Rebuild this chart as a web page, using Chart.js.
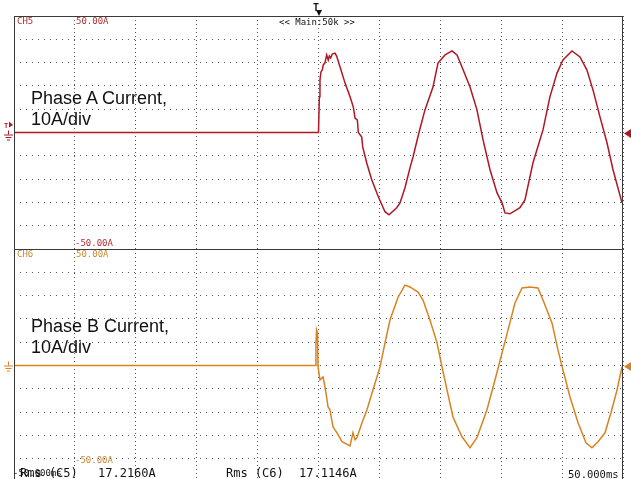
<!DOCTYPE html>
<html>
<head>
<meta charset="utf-8">
<script src="https://cdn.jsdelivr.net/npm/chart.js@4.4.0/dist/chart.umd.min.js"></script>
<style>
  html, body { margin: 0; padding: 0; background: #fff; }
  body { width: 631px; height: 479px; overflow: hidden; position: relative; }
  canvas { position: absolute; left: 0; }
  .lbl { position: absolute; white-space: pre; line-height: 1; }
  .mono { font-family: "DejaVu Sans Mono", monospace; }
  .phase { font-family: "Liberation Sans", Arial, sans-serif; font-size: 18px; color: #111; }
</style>
</head>
<body>
<canvas id="scopeA" width="631" height="260" style="top:0"></canvas>
<canvas id="scopeB" width="631" height="260" style="top:239px"></canvas>

<div class="lbl mono" style="left:17px;top:17px;font-size:9px;color:#b0302f">CH5</div>
<div class="lbl mono" style="left:76px;top:17px;font-size:9px;color:#b0302f">50.00A</div>
<div class="lbl mono" style="left:279px;top:18px;font-size:9px;color:#111">&lt;&lt; Main:50k &gt;&gt;</div>
<div class="lbl mono" style="left:75px;top:239px;font-size:9px;color:#b0302f">-50.00A</div>
<div class="lbl mono" style="left:17px;top:250px;font-size:9px;color:#c98a34">CH6</div>
<div class="lbl mono" style="left:76px;top:250px;font-size:9px;color:#c98a34">50.00A</div>
<div class="lbl mono" style="left:75px;top:456px;font-size:9px;color:#c98a34">-50.00A</div>

<div class="lbl phase" style="left:31px;top:89px">Phase A Current,</div>
<div class="lbl phase" style="left:31px;top:110px">10A/div</div>
<div class="lbl phase" style="left:31px;top:317px">Phase B Current,</div>
<div class="lbl phase" style="left:31px;top:338px">10A/div</div>

<div class="lbl mono" style="left:13px;top:469px;font-size:9px;color:#111">-50.000ms</div>
<div class="lbl mono" style="left:20px;top:467px;font-size:12px;color:#111">Rms (C5)</div>
<div class="lbl mono" style="left:98px;top:467px;font-size:12px;color:#111">17.2160A</div>
<div class="lbl mono" style="left:226px;top:467px;font-size:12px;color:#111">Rms (C6)</div>
<div class="lbl mono" style="left:299px;top:467px;font-size:12px;color:#111">17.1146A</div>
<div class="lbl mono" style="left:568px;top:469px;font-size:10.5px;color:#111">50.000ms</div>

<script>
// time axis: 10 divisions of 5 ms, trigger in the middle
const timeMin = 0;
const timeMax = 50;
const timePerDiv = 5;
// vertical: 10A/div, +/-50A full scale
const ampMin = -50;
const ampMax = 50;
const ampPerDiv = 10;

// CH5 - phase A current (ms, A)
const timeA = [0, 25.0, 25.07, 25.12, 25.2, 25.31, 25.39, 25.53, 25.67, 25.8, 25.89, 26.0, 26.13, 26.35, 26.49,
  26.77, 27.18, 27.59, 27.86, 28.0, 28.19, 28.27, 28.55, 28.63, 28.96, 29.37, 29.91, 30.46, 30.79, 31.42,
  31.69, 32.1, 32.51, 32.76, 33.25, 33.74, 34.4, 34.81, 35.39, 35.96, 36.37, 36.78, 37.44, 38.01, 38.51,
  39.08, 39.66, 40.07, 40.31, 40.72, 41.54, 41.95, 42.61, 43.43, 44.0, 44.58, 45.07, 45.81, 46.47, 47.04,
  47.54, 48.11, 48.69, 49.18, 49.92];
const currentA = [0, 0, 15.3, 22.5, 26.0, 26.8, 29.0, 29.9, 33.3, 31.1, 32.8, 32.0, 33.7, 34.1, 32.8,
  28.1, 21.2, 15.3, 10.9, 6.2, 5.3, 0, -1.9, -6.2, -13.1, -20.3, -27.6, -34.0, -35.3, -32.3,
  -30.2, -23.7, -15.2, -10.5, 0, 9.7, 19.5, 29.8, 33.3, 35.0, 33.3, 28.1, 19.5, 9.7, -3.2,
  -16.0, -25.9, -30.2, -34.5, -34.9, -32.3, -28.9, -13.0, 1.1, 15.3, 25.5, 31.1, 35.0, 32.4, 26.8,
  18.2, 6.7, -4.5, -16.0, -30.2];

// CH6 - phase B current (ms, A)
const timeB = [0, 24.75, 24.79, 24.84, 24.92, 24.96, 25.12, 25.29, 25.37, 25.53, 25.7, 25.78, 25.94, 26.19,
  26.35, 26.52, 26.93, 27.59, 27.83, 28.0, 28.16, 28.57, 28.98, 29.47, 30.05, 30.46, 30.87, 31.53, 32.1,
  32.51, 33.17, 33.58, 34.15, 34.73, 35.14, 35.55, 36.04, 36.78, 37.44, 38.01, 38.83, 39.49, 40.07, 40.56,
  41.13, 41.71, 42.36, 43.02, 43.43, 44.17, 44.66, 45.07, 45.65, 46.31, 46.96, 47.45, 47.95, 48.52, 49.01,
  49.51, 49.92];
const currentB = [0, 0, 8.8, 15.3, 14.0, -0.6, -6.2, -5.3, -4.9, -9.2, -14.7, -17.7, -19.0, -26.3,
  -27.6, -28.9, -32.7, -34.5, -28.9, -31.9, -31.0, -24.6, -19.0, -10.5, -0.6, 9.7, 19.5, 29.3, 34.5,
  33.7, 31.5, 28.1, 19.5, 9.7, -0.6, -10.5, -22.1, -30.6, -35.3, -31.0, -19.0, -6.2, 5.4, 15.3,
  26.8, 33.3, 33.7, 33.3, 28.1, 18.3, 6.7, -1.9, -13.5, -24.6, -33.2, -35.3, -32.7, -28.9, -20.3,
  -10.5, -0.6];

// frame, ground/trigger markers drawn on top of the grid
const scopeMarks = {
  id: 'scopeMarks',
  afterDraw(chart, args, opts) {
    const ctx = chart.ctx;
    const a = chart.chartArea;
    const y0 = Math.round(chart.scales.y.getPixelForValue(0)) + 0.5;
    ctx.save();

    // frame
    ctx.strokeStyle = '#3a3a3a';
    ctx.lineWidth = 1;
    ctx.setLineDash([]);
    ctx.strokeRect(a.left + 0.5, a.top + 0.5, a.right - a.left - 1, a.bottom - a.top);

    // level marker on the right edge
    ctx.fillStyle = opts.color;
    ctx.beginPath();
    ctx.moveTo(a.right + 1, y0);
    ctx.lineTo(631, y0 - 4.5);
    ctx.lineTo(631, y0 + 4.5);
    ctx.closePath();
    ctx.fill();

    // ground symbol on the left edge
    ctx.strokeStyle = opts.color;
    const gy = y0 + opts.groundOffset;
    ctx.beginPath();
    ctx.moveTo(8.5, gy - 4); ctx.lineTo(8.5, gy);
    ctx.moveTo(4, gy + 0.5); ctx.lineTo(13, gy + 0.5);
    ctx.moveTo(5.5, gy + 3); ctx.lineTo(11.5, gy + 3);
    ctx.moveTo(7, gy + 5.5); ctx.lineTo(10, gy + 5.5);
    ctx.stroke();

    if (opts.trigger) {
      // trigger level "T" marker on the left
      ctx.font = 'bold 7px "DejaVu Sans Mono", monospace';
      ctx.fillText('T', 4, y0 - 6);
      ctx.beginPath();
      ctx.moveTo(9, y0 - 12); ctx.lineTo(13, y0 - 8.5); ctx.lineTo(9, y0 - 6);
      ctx.closePath();
      ctx.fill();

      // trigger position marker above the frame
      const tx = Math.round(chart.scales.x.getPixelForValue((timeMin + timeMax) / 2));
      ctx.fillStyle = '#111';
      ctx.font = 'bold 10px "DejaVu Sans Mono", monospace';
      ctx.fillText('T', tx - 6, 11);
      ctx.beginPath();
      ctx.moveTo(tx - 3, 10); ctx.lineTo(tx + 3, 10); ctx.lineTo(tx, 16);
      ctx.closePath();
      ctx.fill();
    }
    ctx.restore();
  }
};

function makeScope(canvasId, times, amps, color, padTop, padBottom, marks) {
  return new Chart(document.getElementById(canvasId), {
    type: 'line',
    data: {
      datasets: [{
        data: times.map((t, i) => ({ x: t, y: amps[i] })),
        borderColor: color,
        borderWidth: 1.5,
        pointRadius: 0,
        tension: 0
      }]
    },
    options: {
      responsive: false,
      animation: false,
      events: [],
      layout: { padding: { left: 14, right: 8, top: padTop, bottom: padBottom } },
      plugins: {
        legend: { display: false },
        tooltip: { enabled: false },
        scopeMarks: marks
      },
      scales: {
        x: {
          type: 'linear',
          min: timeMin,
          max: timeMax,
          ticks: { display: false, stepSize: timePerDiv },
          grid: { color: '#555', drawTicks: false },
          border: { display: false, dash: [1, 3] },
          afterFit: s => { s.height = 0; }
        },
        y: {
          min: ampMin,
          max: ampMax,
          ticks: { display: false, stepSize: ampPerDiv },
          grid: { color: '#555', drawTicks: false },
          border: { display: false, dash: [1, 5] },
          afterFit: s => { s.width = 0; }
        }
      }
    },
    plugins: [scopeMarks]
  });
}

makeScope('scopeA', timeA, currentA, '#b01722', 16, 11,
  { color: '#b01722', groundOffset: 1, trigger: true });
makeScope('scopeB', timeB, currentB, '#d9821f', 10, 17,
  { color: '#d9821f', groundOffset: -1, trigger: false });
</script>
</body>
</html>
